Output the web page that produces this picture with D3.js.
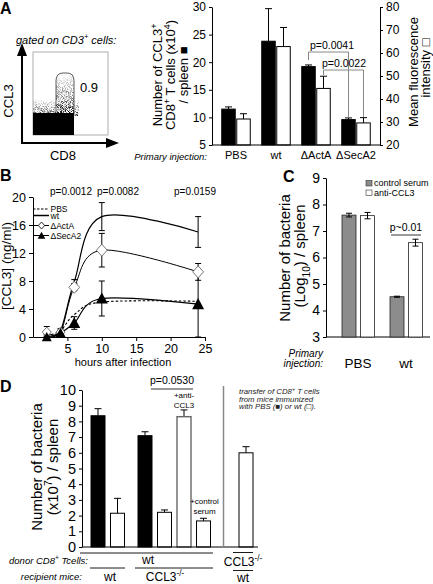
<!DOCTYPE html>
<html><head><meta charset="utf-8">
<script src="https://cdn.jsdelivr.net/npm/d3@7"></script>
<style>html,body{margin:0;padding:0;background:#fff;} svg{display:block;}</style>
</head><body>
<script>
// ---------- DATA ----------
// Panel A (bar chart)
const catsA = ["PBS", "wt", "ΔActA", "ΔSecA2"];
const cellsA = [11.5, 23.8, 19.2, 9.6];        // Number of CCL3+ CD8+ T cells (x10^4)/spleen (black)
const cellsAErr = [0.4, 5.9, 0.3, 0.3];
const mfiA = [31.3, 62.8, 44.6, 29.6];         // Mean fluorescence intensity (white)
const mfiAErr = [2.3, 8.3, 5.3, 2.3];
const ticksAL = [5, 10, 15, 20, 25, 30];
const ticksAR = [20, 30, 40, 50, 60, 70, 80];
const flowGateValue = "0.9";

// Panel B (time course)
const timesB = [2, 4, 6, 10, 24];
const pbsB = [0.2, 0.9, 3.2, 5.0, 5.1];
const wtB = [0.1, 0.9, 7.9, 17.2, 15.0];
const wtBErr = [0.2, 0.3, 0.3, 2.0, 2.2];
const actaB = [0.7, 0.7, 7.1, 12.4, 9.3];
const actaBErr = [0.8, 0.3, 0.5, 2.4, 1.2];
const seca2B = [0.0, 0.6, 2.0, 5.5, 4.7];
const seca2BErr = [0.3, 0.3, 0.9, 2.5, 4.7];
const ticksBY = [0, 4, 8, 12, 16, 20];
const ticksBX = [5, 10, 15, 20, 25];
const pvalsB = ["p=0.0012", "p=0.0082", "p=0.0159"];

// Panel C
const catsC = ["PBS", "wt"];
const ctrlC = [7.6, 4.52];
const ctrlCErr = [0.07, 0.02];
const antiC = [7.58, 6.56];
const antiCErr = [0.12, 0.13];
const ticksC = [3, 4, 5, 6, 7, 8, 9];

// Panel D
const valsD = [8.36, 2.15, 7.09, 2.21, 8.3, 1.66, 6.0];
const errD = [0.45, 0.95, 0.25, 0.15, 0.43, 0.17, 0.39];
const immunD = ["PBS", "wt", "PBS", "wt", "wt", "wt", "wt"];
const groupD = [0, 0, 1, 1, 1, 1, 2];
const treatD = ["", "", "", "", "anti", "control", ""];
const ticksD = [0, 1, 2, 3, 4, 5, 6, 7, 8, 9, 10];

// ---------- SETUP ----------
const F = "'Liberation Sans', Arial, Helvetica, sans-serif";
const fmt = d3.format("d");
const svg = d3.select("body").append("svg").attr("width", 433).attr("height", 584)
  .style("font-family", F);
svg.append("rect").attr("width", 433).attr("height", 584).attr("fill", "#fff");

function rich(t, parts, size) {
  let cur = 0;
  parts.forEach(p => {
    const s = typeof p === "string" ? {t: p} : p;
    const target = s.sup ? -size * 0.42 : s.sub ? size * 0.3 : 0;
    const ts = t.append("tspan").attr("dy", target - cur).text(s.t);
    if (s.sup || s.sub) ts.attr("font-size", size * 0.68);
    cur = target;
  });
  return t;
}
function text(g, x, y, parts, size, opts = {}) {
  const t = g.append("text").attr("x", x).attr("y", y).attr("font-size", size)
    .attr("text-anchor", opts.anchor || "start").attr("fill", opts.fill || "#000");
  if (opts.italic) t.attr("font-style", "italic");
  if (opts.bold) t.attr("font-weight", "bold");
  return rich(t, Array.isArray(parts) ? parts : [parts], size);
}
function vtext(g, x, y, parts, size, opts = {}) {
  const gg = g.append("g").attr("transform", `translate(${x},${y}) rotate(-90)`);
  return text(gg, 0, 0, parts, size, Object.assign({anchor: "middle"}, opts));
}
function styleAxis(a, fs) {
  a.selectAll("path.domain").attr("stroke", "#000").attr("stroke-width", 1);
  a.selectAll(".tick line").attr("stroke", "#000");
  a.selectAll(".tick text").attr("font-size", fs).attr("font-family", F).attr("fill", "#000");
}
function errUp(g, x, y0, y1, cap) {
  g.append("line").attr("x1", x).attr("x2", x).attr("y1", y0).attr("y2", y1).attr("stroke", "#000");
  g.append("line").attr("x1", x - cap / 2).attr("x2", x + cap / 2).attr("y1", y1).attr("y2", y1).attr("stroke", "#000");
}

// ---------- PANEL A : flow plot ----------
const gF = svg.append("g");
const defs = svg.append("defs");
const gr = defs.append("linearGradient").attr("id", "gate").attr("x1", 0).attr("x2", 0).attr("y1", 0).attr("y2", 1);
gr.append("stop").attr("offset", "0%").attr("stop-color", "#000").attr("stop-opacity", 0.05);
gr.append("stop").attr("offset", "100%").attr("stop-color", "#000").attr("stop-opacity", 0.9);
const flt = defs.append("filter").attr("id", "speck").attr("x", 0).attr("y", 0).attr("width", 1).attr("height", 1);
flt.append("feTurbulence").attr("type", "fractalNoise").attr("baseFrequency", 1.2).attr("numOctaves", 1).attr("seed", 4).attr("result", "n");
flt.append("feColorMatrix").attr("in", "n").attr("type", "matrix")
  .attr("values", "0 0 0 0 0  0 0 0 0 0  0 0 0 0 0  5 0 0 0 -2.2").attr("result", "m");
flt.append("feComposite").attr("in", "m").attr("in2", "SourceGraphic").attr("operator", "in");

text(gF, 0, 14, "A", 16, {bold: true});
text(gF, 16, 44, ["gated on CD3", {t: "+", sup: true}, " cells:"], 11, {italic: true});
gF.append("rect").attr("x", 33).attr("y", 52).attr("width", 75).attr("height", 83)
  .attr("fill", "none").attr("stroke", "#999").attr("stroke-width", 0.8);
gF.append("rect").attr("x", 56).attr("y", 74).attr("width", 18).attr("height", 42).attr("fill", "url(#gate)").attr("filter", "url(#speck)");
gF.append("rect").attr("x", 33).attr("y", 100).attr("width", 46).attr("height", 16).attr("fill", "url(#gate)").attr("filter", "url(#speck)");
gF.append("rect").attr("x", 33).attr("y", 113).attr("width", 41).attr("height", 22).attr("fill", "#000");
gF.append("path").attr("d", "M56,113 L56,81 Q56,73 63,73 L67,73 Q74,73 74,81 L74,113")
  .attr("fill", "none").attr("stroke", "#333").attr("stroke-width", 0.8);
text(gF, 80, 92, flowGateValue, 13);
gF.append("line").attr("x1", 22).attr("x2", 22).attr("y1", 143).attr("y2", 54).attr("stroke", "#000").attr("stroke-width", 2);
gF.append("path").attr("d", "M22,43 L27,56 L17,56 Z").attr("fill", "#000");
gF.append("line").attr("x1", 21).attr("x2", 108).attr("y1", 143).attr("y2", 143).attr("stroke", "#000").attr("stroke-width", 2);
gF.append("path").attr("d", "M119,143 L106,138 L106,148 Z").attr("fill", "#000");
vtext(gF, 13, 101, "CCL3", 13);
text(gF, 63, 160, "CD8", 13, {anchor: "middle"});

// ---------- PANEL A : bars ----------
const gA = svg.append("g");
const yAL = d3.scaleLinear().domain([5, 30]).range([145, 7]);
const yAR = d3.scaleLinear().domain([20, 80]).range([145, 7]);
const xA = d3.scaleBand().domain(catsA).range([216, 376]);
const bw = 13.5;
catsA.forEach((c, i) => {
  const xb = xA(c) + 5.75, xw = xA(c) + 20.75;
  errUp(gA, xb + bw / 2, yAL(cellsA[i]), yAL(cellsA[i] + cellsAErr[i]), 7);
  errUp(gA, xw + bw / 2, yAR(mfiA[i]), yAR(mfiA[i] + mfiAErr[i]), 7);
  gA.append("rect").attr("x", xb).attr("y", yAL(cellsA[i])).attr("width", bw).attr("height", 145 - yAL(cellsA[i]))
    .attr("fill", "#000").attr("stroke", "#000");
  gA.append("rect").attr("x", xw).attr("y", yAR(mfiA[i])).attr("width", bw).attr("height", 145 - yAR(mfiA[i]))
    .attr("fill", "#fff").attr("stroke", "#000");
});
const aL = gA.append("g").attr("transform", "translate(212,0)")
  .call(d3.axisLeft(yAL).tickValues(ticksAL).tickFormat(fmt).tickSize(3).tickSizeOuter(0));
styleAxis(aL, 12);
const aR = gA.append("g").attr("transform", "translate(380,0)")
  .call(d3.axisRight(yAR).tickValues(ticksAR).tickFormat(fmt).tickSize(3).tickSizeOuter(0));
styleAxis(aR, 12);
gA.append("line").attr("x1", 212).attr("x2", 380).attr("y1", 145).attr("y2", 145).attr("stroke", "#000");
catsA.forEach(c => text(gA, xA(c) + 20, 159, c, 11, {anchor: "middle"}));
text(gA, 207, 160, "Primary injection:", 9.5, {anchor: "end", italic: true});
// p-value brackets
const xbC = c => xA(c) + 5.75 + bw / 2, xwC = c => xA(c) + 20.75 + bw / 2;
const br = gA.append("g").attr("stroke", "#888").attr("fill", "none");
br.append("path").attr("d", `M${xbC("ΔActA")},60 V52 H${xbC("ΔSecA2")} V${yAL(cellsA[3] + cellsAErr[3]) - 1}`);
br.append("path").attr("d", `M${xwC("ΔActA")},75 V70 H${xwC("ΔSecA2")} V${yAR(mfiA[3] + mfiAErr[3]) - 1}`);
text(gA, 332, 49, "p=0.0041", 10.5, {anchor: "middle"});
text(gA, 344, 67, "p=0.0022", 10.5, {anchor: "middle"});
const lt = gA.append("g");
vtext(lt, 162, 75, ["Number of CCL3", {t: "+", sup: true}], 13);
vtext(lt, 175, 75, ["CD8", {t: "+", sup: true}, " T cells (x10", {t: "4", sup: true}, ")"], 13);
vtext(lt, 188, 75, ["/ spleen ■"], 13);
vtext(lt, 418, 72, "Mean fluorescence", 13);
vtext(lt, 430, 68, "intensity □", 13);

// ---------- PANEL B ----------
const gB = svg.append("g");
text(gB, 0, 181, "B", 16, {bold: true});
const xB = d3.scaleLinear().domain([0, 25]).range([33, 205]);
const yB = d3.scaleLinear().domain([0, 20]).range([337, 197]);
const aBY = gB.append("g").attr("transform", "translate(33,0)")
  .call(d3.axisLeft(yB).tickValues(ticksBY).tickFormat(fmt).tickSize(4).tickSizeOuter(0));
styleAxis(aBY, 12.5);
const aBX = gB.append("g").attr("transform", "translate(0,337)")
  .call(d3.axisBottom(xB).tickValues(ticksBX).tickFormat(fmt).tickSize(4).tickSizeOuter(0));
styleAxis(aBX, 12.5);
text(gB, 123, 366, "hours after infection", 11, {anchor: "middle"});
vtext(gB, 11, 266, "[CCL3] (ng/ml)", 13.5);
pvalsB.forEach((p, i) => text(gB, [71, 118, 195][i], 195, p, 10, {anchor: "middle"}));
const line = d3.line().x((d, i) => xB(timesB[i])).y(d => yB(d)).curve(d3.curveCardinal.tension(0));
function errBoth(g, x, v, e, cap) {
  const y0 = yB(Math.max(0, v - e)), y1 = yB(v + e);
  g.append("line").attr("x1", x).attr("x2", x).attr("y1", y0).attr("y2", y1).attr("stroke", "#000");
  [y0, y1].forEach(y => g.append("line").attr("x1", x - cap / 2).attr("x2", x + cap / 2).attr("y1", y).attr("y2", y).attr("stroke", "#000"));
}
timesB.forEach((t, i) => {
  errBoth(gB, xB(t), wtB[i], wtBErr[i], 6);
  errBoth(gB, xB(t), actaB[i], actaBErr[i], 6);
  errBoth(gB, xB(t), seca2B[i], seca2BErr[i], 6);
});
gB.append("path").attr("d", line(pbsB)).attr("fill", "none").attr("stroke", "#000").attr("stroke-dasharray", "2.5,2").attr("stroke-width", 1.1);
gB.append("path").attr("d", line(wtB)).attr("fill", "none").attr("stroke", "#000").attr("stroke-width", 1.2);
gB.append("path").attr("d", line(actaB)).attr("fill", "none").attr("stroke", "#000").attr("stroke-width", 1);
gB.append("path").attr("d", line(seca2B)).attr("fill", "none").attr("stroke", "#000").attr("stroke-width", 1.2);
const diamond = s => `M0,${-s} L${s * 0.9},0 L0,${s} L${-s * 0.9},0 Z`;
const tri = s => `M0,${-s} L${s},${s * 0.85} L${-s},${s * 0.85} Z`;
timesB.forEach((t, i) => {
  const s = i < 2 ? 5 : 6;
  gB.append("path").attr("d", diamond(s)).attr("transform", `translate(${xB(t)},${yB(actaB[i])})`)
    .attr("fill", "#fff").attr("stroke", "#666").attr("stroke-width", 0.9);
  gB.append("path").attr("d", tri(s)).attr("transform", `translate(${xB(t)},${yB(seca2B[i])})`)
    .attr("fill", "#000");
});
// legend
const lg = gB.append("g");
lg.append("line").attr("x1", 33).attr("x2", 49).attr("y1", 209).attr("y2", 209).attr("stroke", "#000").attr("stroke-dasharray", "2.5,1.5").attr("stroke-width", 1.2);
lg.append("line").attr("x1", 33).attr("x2", 49).attr("y1", 215.5).attr("y2", 215.5).attr("stroke", "#000").attr("stroke-width", 1.5);
lg.append("line").attr("x1", 34).attr("x2", 49).attr("y1", 225.5).attr("y2", 225.5).attr("stroke", "#000");
lg.append("path").attr("d", diamond(3.5)).attr("transform", "translate(41.5,225.5)").attr("fill", "#fff").attr("stroke", "#000").attr("stroke-width", 0.8);
lg.append("line").attr("x1", 34).attr("x2", 49).attr("y1", 235.5).attr("y2", 235.5).attr("stroke", "#000");
lg.append("path").attr("d", tri(3.8)).attr("transform", "translate(41.5,235.5)").attr("fill", "#000");
text(lg, 50.5, 211.5, "PBS", 8.5);
text(lg, 50.5, 218.5, "wt", 8.5);
text(lg, 50.5, 228.5, "ΔActA", 8.5);
text(lg, 50.5, 238.5, "ΔSecA2", 8.5);

// ---------- PANEL C ----------
const gC = svg.append("g");
text(gC, 283, 182, "C", 16, {bold: true});
const yC = d3.scaleLinear().domain([3, 9]).range([337, 178]);
const xC = d3.scaleBand().domain(catsC).range([334, 430]);
const aC = gC.append("g").attr("transform", "translate(326,0)")
  .call(d3.axisLeft(yC).tickValues(ticksC).tickFormat(fmt).tickSize(3).tickSizeOuter(0));
styleAxis(aC, 14);
gC.append("line").attr("x1", 326).attr("x2", 430).attr("y1", 337).attr("y2", 337).attr("stroke", "#000");
function errC(g, x, v, e) {
  const y0 = yC(v - e), y1 = yC(v + e);
  g.append("line").attr("x1", x).attr("x2", x).attr("y1", y0).attr("y2", y1).attr("stroke", "#000");
  [y0, y1].forEach(y => g.append("line").attr("x1", x - 3).attr("x2", x + 3).attr("y1", y).attr("y2", y).attr("stroke", "#000"));
}
catsC.forEach((c, i) => {
  const c0 = xC(c) + xC.bandwidth() / 2;
  const xg = c0 - 16, xw = c0 + 2.5, w = 14;
  gC.append("rect").attr("x", xg).attr("y", yC(ctrlC[i])).attr("width", w).attr("height", 337 - yC(ctrlC[i]))
    .attr("fill", "#8c8c8c").attr("stroke", "#222").attr("stroke-width", 0.8);
  gC.append("rect").attr("x", xw).attr("y", yC(antiC[i])).attr("width", w).attr("height", 337 - yC(antiC[i]))
    .attr("fill", "#fff").attr("stroke", "#222").attr("stroke-width", 0.8);
  errC(gC, xg + w / 2, ctrlC[i], ctrlCErr[i]);
  errC(gC, xw + w / 2, antiC[i], antiCErr[i]);
  text(gC, c0, 368, c, 13.5, {anchor: "middle"});
});
text(gC, 323, 357, "Primary", 10, {anchor: "end", italic: true});
text(gC, 323, 367, "injection:", 10, {anchor: "end", italic: true});
gC.append("rect").attr("x", 366).attr("y", 180.5).attr("width", 6).attr("height", 5.5).attr("fill", "#8c8c8c").attr("stroke", "#333").attr("stroke-width", 0.6);
gC.append("rect").attr("x", 366).attr("y", 190).attr("width", 6).attr("height", 5.5).attr("fill", "#fff").attr("stroke", "#333").attr("stroke-width", 0.6);
text(gC, 374, 186, "control serum", 9);
text(gC, 374, 195.5, "anti-CCL3", 9);
text(gC, 406, 231, "p~0.01", 10.5, {anchor: "middle"});
gC.append("line").attr("x1", 391).attr("x2", 421).attr("y1", 235).attr("y2", 235).attr("stroke", "#000").attr("stroke-width", 0.8);
vtext(gC, 290, 258, "Number of  bacteria", 15);
vtext(gC, 305, 256, ["(Log", {t: "10", sub: true}, ") / spleen"], 15);

// ---------- PANEL D ----------
const gD = svg.append("g");
text(gD, 0, 392, "D", 16, {bold: true});
const yD = d3.scaleLinear().domain([0, 10]).range([547, 390]);
const xD = d3.scaleBand().domain(d3.range(valsD.length)).range([91, 91 + 19.5 * (7 - 5.5 / 19.5)])
  .paddingInner(5.5 / 19.5).paddingOuter(0);
const gapD = [0, 8, 31];
const bxD = i => xD(i) + gapD[groupD[i]];
valsD.forEach((v, i) => {
  const x = bxD(i), w = xD.bandwidth();
  errUp(gD, x + w / 2, yD(v), yD(v + errD[i]), 7);
  const r = gD.append("rect").attr("x", x).attr("y", yD(v)).attr("width", w).attr("height", 547 - yD(v))
    .attr("fill", immunD[i] === "PBS" ? "#000" : "#fff").attr("stroke", "#000").attr("stroke-width", 1);
  if (treatD[i] === "anti") r.attr("stroke", "#666").attr("stroke-width", 1.4);
});
const aD = gD.append("g").attr("transform", "translate(82,0)")
  .call(d3.axisLeft(yD).tickValues(ticksD).tickFormat(fmt).tickSize(3).tickSizeOuter(0));
styleAxis(aD, 14.5);
gD.append("line").attr("x1", 82).attr("x2", 258).attr("y1", 547).attr("y2", 547).attr("stroke", "#000");
gD.append("line").attr("x1", 223.5).attr("x2", 223.5).attr("y1", 386).attr("y2", 547).attr("stroke", "#888").attr("stroke-width", 1.5);
// annotations
const cx4 = bxD(4) + xD.bandwidth() / 2, cx5 = bxD(5) + xD.bandwidth() / 2;
text(gD, cx4, 398, "+anti-", 8, {anchor: "middle"});
text(gD, cx4, 407.5, "CCL3", 8, {anchor: "middle"});
text(gD, cx5 + 1, 504, "+control", 8, {anchor: "middle"});
text(gD, cx5 + 1, 513.5, "serum", 8, {anchor: "middle"});
text(gD, 172, 384, "p=0.0530", 10.5, {anchor: "middle"});
gD.append("line").attr("x1", 151).attr("x2", 193).attr("y1", 389).attr("y2", 389).attr("stroke", "#000").attr("stroke-width", 0.8);
text(gD, 239, 394, ["transfer of CD8", {t: "+", sup: true}, " T cells"], 7.8, {italic: true, fill: "#222"});
text(gD, 239, 401.5, "from mice immunized", 7.8, {italic: true, fill: "#222"});
text(gD, 239, 409, "with PBS (■) or wt (□).", 7.8, {italic: true, fill: "#222"});
vtext(gD, 42, 467, "Number of  bacteria", 15);
vtext(gD, 58, 467, ["(x10", {t: "7", sup: true}, ") / spleen"], 15);
// group labels
const gl = gD.append("g").attr("stroke", "#000").attr("stroke-width", 0.9);
gl.append("line").attr("x1", 80).attr("x2", 213).attr("y1", 553).attr("y2", 553);
gl.append("line").attr("x1", 233).attr("x2", 253).attr("y1", 552.5).attr("y2", 552.5);
gl.append("line").attr("x1", 90).attr("x2", 125).attr("y1", 568).attr("y2", 568);
gl.append("line").attr("x1", 135).attr("x2", 213).attr("y1", 568).attr("y2", 568);
gl.append("line").attr("x1", 233).attr("x2", 253).attr("y1", 570.5).attr("y2", 570.5);
text(gD, 88, 564, ["donor CD8", {t: "+", sup: true}, " Tcells:"], 9.5, {anchor: "end", italic: true});
text(gD, 148, 564, "wt", 12, {anchor: "middle"});
text(gD, 243, 566, ["CCL3", {t: "-/-", sup: true}], 12, {anchor: "middle"});
text(gD, 82, 580, "recipient mice:", 9.5, {anchor: "end", italic: true});
text(gD, 110, 581, "wt", 12, {anchor: "middle"});
text(gD, 165, 581, ["CCL3", {t: "-/-", sup: true}], 12, {anchor: "middle"});
text(gD, 243, 582, "wt", 12, {anchor: "middle"});
</script>
</body></html>
